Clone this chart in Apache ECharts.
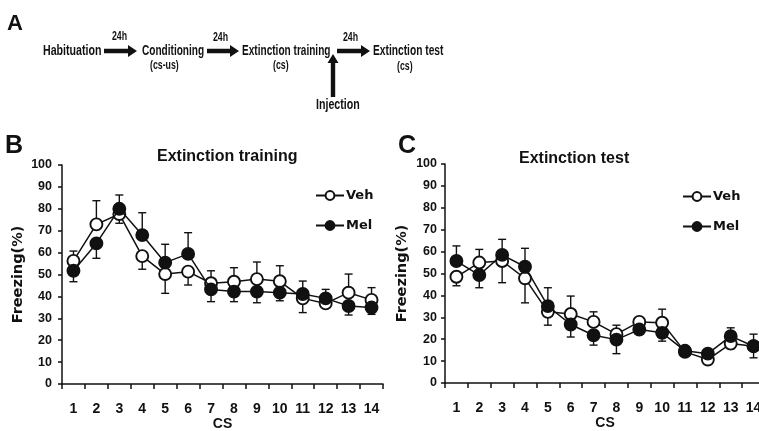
<!DOCTYPE html>
<html><head><meta charset="utf-8">
<script src="https://cdn.jsdelivr.net/npm/echarts@6/dist/echarts.min.js"></script>
<style>html,body{margin:0;padding:0;background:#fff}#c{width:759px;height:431px}</style>
</head><body><div id="c"></div>
<script>
// ---- data ----
const categories = ['1','2','3','4','5','6','7','8','9','10','11','12','13','14'];
const yMin = 0, yMax = 100, yStep = 10;

// Panel B: Extinction training (mean freezing %, and end value of the drawn error bar)
const trainVeh    = [56.2, 72.9, 77.6, 58.4, 50.2, 51.3, 46.0, 46.7, 47.9, 46.9, 39.1, 36.8, 41.7, 38.4];
const trainVehErr = [60.7, 83.7, 73.4, 52.4, 41.4, 45.2, 51.7, 53.1, 55.7, 54.0, 32.6, 35.5, 50.2, 44.0];
const trainMel    = [51.7, 64.2, 80.0, 68.0, 55.4, 59.4, 43.2, 42.2, 42.2, 41.7, 41.1, 39.1, 35.6, 34.9];
const trainMelErr = [46.7, 57.4, 86.3, 78.2, 63.8, 69.1, 37.6, 37.6, 37.1, 38.0, 47.0, 43.2, 31.5, 31.8];

// Panel C: Extinction test
const testVeh    = [48.5, 55.0, 55.7, 47.8, 32.5, 31.5, 27.9, 22.3, 27.9, 27.5, 14.2, 10.7, 18.0, 16.8];
const testVehErr = [44.4, 61.0, 45.8, 36.6, 26.4, 39.7, 32.5, 26.4, 28.8, 33.7, 16.5, 9.8, 15.7, 22.3];
const testMel    = [55.7, 49.3, 58.5, 53.1, 35.1, 26.7, 21.8, 19.8, 24.4, 22.9, 14.7, 13.4, 21.4, 16.8];
const testMelErr = [62.6, 43.5, 65.6, 61.5, 43.5, 21.0, 17.3, 13.4, 22.3, 19.1, 13.0, 14.5, 25.2, 11.5];

const seriesNames = ['Veh', 'Mel'];

// ---- styles ----
const INK = '#111';
const boldLib = {fontFamily: 'Liberation Sans', fontWeight: 'bold', color: INK};

function errRender(params, api) {
  const p0 = api.coord([api.value(0), api.value(1)]);
  const p1 = api.coord([api.value(0), api.value(2)]);
  const hw = 4;
  return {type: 'group', children: [
    {type: 'line', shape: {x1: p0[0], y1: p0[1], x2: p1[0], y2: p1[1]}, style: {stroke: INK, lineWidth: 1.4}},
    {type: 'line', shape: {x1: p1[0] - hw, y1: p1[1], x2: p1[0] + hw, y2: p1[1]}, style: {stroke: INK, lineWidth: 1.4}}
  ]};
}
function errData(mean, err) { return mean.map((m, i) => [i, m, err[i]]); }

function xAxisCfg(gridIndex) {
  return {
    type: 'category', gridIndex, data: categories, boundaryGap: true,
    name: 'CS', nameLocation: 'middle', nameGap: 33, nameMoveOverlap: false,
    nameTextStyle: Object.assign({fontSize: 14}, boldLib),
    axisLine: {lineStyle: {color: INK, width: 1.5}},
    axisTick: {show: true, length: 5, interval: 0, lineStyle: {color: INK, width: 1.5}},
    axisLabel: Object.assign({interval: 0, fontSize: 14, margin: 18}, boldLib),
    splitLine: {show: false}
  };
}
function yAxisCfg(gridIndex, labelMargin, nameGap) {
  return {
    type: 'value', gridIndex, min: yMin, max: yMax, interval: yStep,
    name: 'Freezing(%)', nameLocation: 'middle', nameGap: nameGap, nameRotate: 90, nameMoveOverlap: false,
    nameTextStyle: {fontFamily: 'DejaVu Sans', fontWeight: 'bold', fontSize: 14.5, color: INK},
    axisLine: {show: true, lineStyle: {color: INK, width: 1.5}},
    axisTick: {show: true, length: 4, lineStyle: {color: INK, width: 1.5}},
    axisLabel: Object.assign({fontSize: 12.5, margin: labelMargin}, boldLib),
    splitLine: {show: false}
  };
}
function lineSeries(name, data, idx, filled) {
  return {
    type: 'line', name, data, xAxisIndex: idx, yAxisIndex: idx,
    symbol: 'circle', symbolSize: 12, z: filled ? 4 : 3,
    lineStyle: {color: INK, width: 1.5},
    itemStyle: {color: filled ? INK : '#fff', borderColor: INK, borderWidth: 1.9},
    emphasis: {disabled: true}, animation: false
  };
}
function errSeries(name, mean, err, idx) {
  return {
    type: 'custom', name, xAxisIndex: idx, yAxisIndex: idx, z: 2,
    renderItem: errRender, data: errData(mean, err),
    encode: {x: 0, y: [1, 2]}, silent: true, animation: false
  };
}
function legendCfg(left, top) {
  return {
    data: seriesNames, orient: 'vertical', left, top, padding: 0,
    itemWidth: 28, itemHeight: 11, itemGap: 17, selectedMode: false,
    textStyle: {fontFamily: 'DejaVu Sans', fontWeight: 'bold', fontSize: 13, color: INK, padding: [0, 0, 0, -3]}
  };
}

// panel A graphic helpers (decoration)
function txt(x, y, text, size, sx) {
  return {type: 'text', x, y, scaleX: sx || 0.73, style: {text, font: 'bold ' + size + 'px "Liberation Sans"', fill: INK, textAlign: 'left', textVerticalAlign: 'middle'}};
}
function hArrow(x1, x2, y) {
  const t = 2.3, hl = 9, hw = 6;
  return {type: 'polygon', shape: {points: [[x1, y - t], [x2 - hl, y - t], [x2 - hl, y - hw], [x2, y], [x2 - hl, y + hw], [x2 - hl, y + t], [x1, y + t]]}, style: {fill: INK}};
}
function vArrow(x, y1, y2) {
  const t = 2.2, hl = 9, hw = 5.5;
  return {type: 'polygon', shape: {points: [[x - t, y1], [x - t, y2 + hl], [x - hw, y2 + hl], [x, y2], [x + hw, y2 + hl], [x + t, y2 + hl], [x + t, y1]]}, style: {fill: INK}};
}

const graphic = [
  {type: 'text', x: 7, y: 24, style: {text: 'A', font: 'bold 22px "Liberation Sans"', fill: INK, textVerticalAlign: 'middle'}},
  {type: 'text', x: 5, y: 146, style: {text: 'B', font: 'bold 25px "Liberation Sans"', fill: INK, textVerticalAlign: 'middle'}},
  {type: 'text', x: 398, y: 146, style: {text: 'C', font: 'bold 25px "Liberation Sans"', fill: INK, textVerticalAlign: 'middle'}},
  txt(43, 51, 'Habituation', 14, 0.76),
  hArrow(104, 137, 51), txt(112, 37, '24h', 12),
  txt(142, 51, 'Conditioning', 14, 0.72),
  txt(150, 66, '(cs-us)', 12),
  hArrow(207, 239, 51), txt(213, 38, '24h', 12),
  txt(242, 51, 'Extinction training', 14, 0.72),
  txt(273, 66, '(cs)', 12),
  hArrow(337, 370, 51), txt(343, 38, '24h', 12),
  vArrow(333, 97, 54),
  txt(316, 105, 'Injection', 14, 0.76),
  txt(373, 51, 'Extinction test', 14, 0.73),
  txt(397, 67, '(cs)', 12)
];

const chart = echarts.init(document.getElementById('c'), null, {renderer: 'canvas'});
chart.setOption({
  backgroundColor: '#fff',
  animation: false,
  title: [
    {text: 'Extinction training', left: 157, top: 149, padding: 0, textStyle: Object.assign({fontSize: 16}, boldLib)},
    {text: 'Extinction test', left: 519, top: 151, padding: 0, textStyle: Object.assign({fontSize: 16}, boldLib)}
  ],
  legend: [legendCfg(315, 189), legendCfg(682, 190)],
  grid: [
    {left: 62, top: 165, width: 321, height: 219, outerBoundsMode: 'none'},
    {left: 445, top: 164, width: 320, height: 219, outerBoundsMode: 'none'}
  ],
  xAxis: [xAxisCfg(0), xAxisCfg(1)],
  yAxis: [yAxisCfg(0, 10, 36), yAxisCfg(1, 8, 35)],
  series: [
    errSeries('VehErrB', trainVeh, trainVehErr, 0),
    errSeries('MelErrB', trainMel, trainMelErr, 0),
    lineSeries('Veh', trainVeh, 0, false),
    lineSeries('Mel', trainMel, 0, true),
    errSeries('VehErrC', testVeh, testVehErr, 1),
    errSeries('MelErrC', testMel, testMelErr, 1),
    lineSeries('Veh', testVeh, 1, false),
    lineSeries('Mel', testMel, 1, true)
  ],
  graphic
});
</script></body></html>
